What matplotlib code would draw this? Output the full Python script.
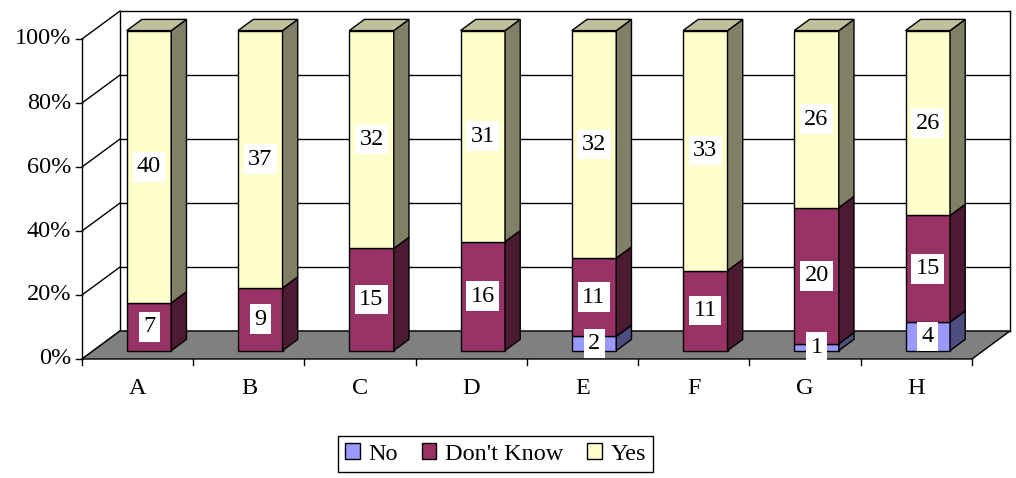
import matplotlib
matplotlib.use('Agg')
import matplotlib.pyplot as plt
from matplotlib.patches import Polygon, Patch

plt.rcParams['font.family'] = ['Liberation Serif', 'DejaVu Serif']

groups = ['A', 'B', 'C', 'D', 'E', 'F', 'G', 'H']
no = [0, 0, 0, 0, 2, 0, 1, 4]
dont_know = [7, 9, 15, 16, 11, 11, 20, 15]
yes = [40, 37, 32, 31, 32, 33, 26, 26]
series_names = ['No', "Don't Know", 'Yes']
yticks = [0, 20, 40, 60, 80, 100]

face_col = ['#9999FF', '#993366', '#FFFFCC']
side_col = ['#4D4D80', '#4D1A33', '#808066']
top_col = ['#B8B8FF', '#B35C85', '#C0C09A']

# front plane in pixels: left/right and 0%/100% rows
px_l, px_r, px_b, px_t = 82, 972, 359, 39
W, H = 1016, 478
n = len(groups)
cat_px = (px_r - px_l) / n
pct_px = (px_b - px_t) / 100.0

# depth shear of the back wall, in data units
DX = 38 / cat_px
DY = 28 / pct_px
d0, d1 = 0.3, 0.7
bar_w = 0.4
fs = 17.5


def P(x, y, d=0.0):
    return (x + d * DX, y + d * DY)


fig = plt.figure(figsize=(W / 100, H / 100), dpi=100)
ax = fig.add_axes([0, 0, 1, 1])
ax.set_xlim(-px_l / cat_px, (W - px_l) / cat_px)
ax.set_ylim((px_b - H) / pct_px, px_b / pct_px)
ax.axis('off')

lw = 1.0
# back wall gridlines and left wall diagonals
for t in yticks:
    ax.plot(*zip(P(0, t, 1), P(n, t, 1)), color='black', lw=lw, zorder=1)
    ax.plot(*zip(P(0, t, 0), P(0, t, 1)), color='black', lw=lw, zorder=1)
ax.plot(*zip(P(0, 0, 1), P(0, 100, 1)), color='black', lw=lw, zorder=1)
ax.plot(*zip(P(n, 0, 1), P(n, 100, 1)), color='black', lw=lw, zorder=1)

# floor
ax.add_patch(Polygon([P(0, 0), P(n, 0), P(n, 0, 1), P(0, 0, 1)],
                     closed=True, facecolor='#808080', edgecolor='black',
                     lw=lw, zorder=2))

# value axis
ax.plot([0, 0], [0, 100], color='black', lw=lw, zorder=2)
tick_len = 6 / cat_px
for t in yticks:
    ax.plot([-tick_len, 0], [t, t], color='black', lw=lw, zorder=2)
    ax.text(-11 / cat_px, t, '%d%%' % t, ha='right', va='center', fontsize=fs)

# category axis
for i in range(n + 1):
    ax.plot([i, i], [0, -6 / pct_px], color='black', lw=lw, zorder=2)
for i, g in enumerate(groups):
    ax.text(i + 0.5, -29 / pct_px, g, ha='center', va='center', fontsize=fs)

# stacked 100% bars
data = [no, dont_know, yes]
for i in range(n):
    total = sum(s[i] for s in data)
    xl = i + 0.5 - bar_w / 2
    xr = i + 0.5 + bar_w / 2
    cum = 0
    last = max(k for k in range(3) if data[k][i] > 0)
    for k in range(3):
        v = data[k][i]
        if v == 0:
            continue
        lo = cum / total * 100
        hi = (cum + v) / total * 100
        cum += v
        z = 3 + i * 0.01
        ax.add_patch(Polygon([P(xl, lo, d0), P(xr, lo, d0), P(xr, hi, d0), P(xl, hi, d0)],
                             facecolor=face_col[k], edgecolor='black', lw=lw, zorder=z))
        ax.add_patch(Polygon([P(xr, lo, d0), P(xr, lo, d1), P(xr, hi, d1), P(xr, hi, d0)],
                             facecolor=side_col[k], edgecolor='black', lw=lw, zorder=z))
        if k == last:
            ax.add_patch(Polygon([P(xl, hi, d0), P(xr, hi, d0), P(xr, hi, d1), P(xl, hi, d1)],
                                 facecolor=top_col[k], edgecolor='black', lw=lw, zorder=z))
    cum = 0
    for k in range(3):
        v = data[k][i]
        if v == 0:
            continue
        mid = (cum + v / 2) / total * 100
        cum += v
        lx, ly = P(i + 0.5, mid, d0)
        ax.text(lx, ly, str(v), ha='center', va='center', fontsize=fs, zorder=10,
                bbox=dict(boxstyle='square,pad=0.18', facecolor='white', edgecolor='none'))

handles = [Patch(facecolor=face_col[k], edgecolor='black', lw=lw, label=series_names[k])
           for k in range(3)]
leg = fig.legend(handles=handles, loc='center', bbox_to_anchor=(0.4877, 0.05), ncol=3,
                 fontsize=fs, fancybox=False, framealpha=1, edgecolor='black',
                 handlelength=0.6, handleheight=0.6, handletextpad=0.35,
                 columnspacing=1.0, borderpad=0.3, borderaxespad=0)
leg.get_frame().set_linewidth(lw)

fig.savefig('out.png', dpi=100)
